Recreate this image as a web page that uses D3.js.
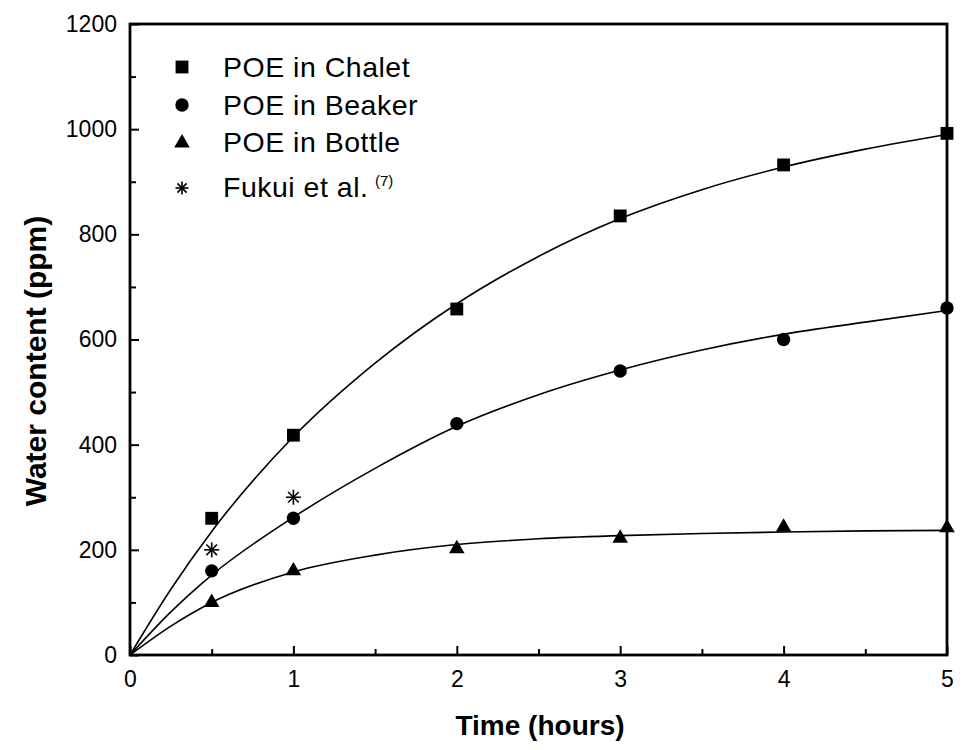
<!DOCTYPE html>
<html>
<head>
<meta charset="utf-8">
<script src="https://cdn.jsdelivr.net/npm/d3@7"></script>
<style>
  body { margin: 0; background: #fff; }
  svg { display: block; font-family: "Liberation Sans", Arial, sans-serif; }
</style>
</head>
<body>
<svg id="chart" width="964" height="750"></svg>
<script>
// Measured water content (ppm) versus exposure time (hours)
const times = [0.5, 1, 2, 3, 4, 5];
const chalet = [260, 418, 658, 835, 932, 992];
const beaker = [160, 260, 440, 540, 600, 660];
const bottle = [100, 160, 202, 222, 243, 242];
const fukuiTimes = [0.5, 1];
const fukui = [200, 300];

// Fitted trend curves
const fitTimes = [0, 0.25, 0.5, 1, 1.5, 2, 2.5, 3, 3.5, 4, 4.5, 5];
const chaletFit = [0, 125, 235, 415, 555, 668, 758, 830, 885, 928, 962, 990];
const beakerFit = [0, 82, 152, 262, 355, 435, 495, 542, 580, 610, 633, 655];
const bottleFit = [0, 55, 100, 158, 190, 210, 221, 227, 231, 234, 236, 237];

const xTicks = [0, 1, 2, 3, 4, 5];
const yTicks = [0, 200, 400, 600, 800, 1000, 1200];
const legendLabels = ["POE in Chalet", "POE in Beaker", "POE in Bottle", "Fukui et al."];

const svg = d3.select("#chart");
const plotLeft = 130, plotRight = 947, plotTop = 24, plotBottom = 655;

const x = d3.scaleLinear().domain([0, 5]).range([plotLeft, plotRight]);
const y = d3.scaleLinear().domain([0, 1200]).range([plotBottom, plotTop]);

// Axes with inward ticks
const xAxis = d3.axisBottom(x).tickValues(d3.range(0, 5.01, 0.5))
  .tickSize(-9).tickPadding(15)
  .tickFormat(d => xTicks.includes(d) ? d3.format("d")(d) : "");
const yAxis = d3.axisLeft(y).tickValues(d3.range(0, 1201, 100))
  .tickSize(-9).tickPadding(13)
  .tickFormat(d => yTicks.includes(d) ? d3.format("d")(d) : "");

const gx = svg.append("g").attr("transform", `translate(0,${plotBottom})`).call(xAxis);
const gy = svg.append("g").attr("transform", `translate(${plotLeft},0)`).call(yAxis);
[gx, gy].forEach(g => {
  g.select(".domain").remove();
  g.selectAll(".tick line").attr("stroke", "#000").attr("stroke-width", 2);
  g.selectAll(".tick text").attr("fill", "#000").attr("font-size", 23);
});
gx.selectAll(".tick text").attr("dy", "0.72em");
gx.selectAll(".tick").filter(d => !xTicks.includes(d)).select("line").attr("y2", -6);
gy.selectAll(".tick").filter(d => !yTicks.includes(d)).select("line").attr("x2", 6);

// Plot frame
svg.append("rect")
  .attr("x", plotLeft).attr("y", plotTop)
  .attr("width", plotRight - plotLeft).attr("height", plotBottom - plotTop)
  .attr("fill", "none").attr("stroke", "#000").attr("stroke-width", 2.8);

// Axis titles
svg.append("text")
  .attr("x", 540).attr("y", 735)
  .attr("text-anchor", "middle").attr("font-size", 28).attr("font-weight", "bold")
  .text("Time (hours)");
svg.append("text")
  .attr("transform", "translate(46,361) rotate(-90)")
  .attr("text-anchor", "middle").attr("font-size", 30).attr("font-weight", "bold")
  .text("Water content (ppm)");

// Trend curves
const line = d3.line().x(d => x(d[0])).y(d => y(d[1])).curve(d3.curveMonotoneX);
[chaletFit, beakerFit, bottleFit].forEach(vals => {
  svg.append("path")
    .datum(fitTimes.map((t, i) => [t, vals[i]]))
    .attr("d", line)
    .attr("fill", "none").attr("stroke", "#000").attr("stroke-width", 1.6);
});

// Marker shapes
const sym = {
  square: d3.symbol().type(d3.symbolSquare).size(165),
  circle: d3.symbol().type(d3.symbolCircle).size(140),
  triangle: d3.symbol().type(d3.symbolTriangle).size(105)
};
function asterisk(g, cx, cy, r) {
  const a = g.append("g").attr("transform", `translate(${cx},${cy})`);
  [0, 45, 90, 135].forEach(ang => {
    const rad = ang * Math.PI / 180;
    a.append("line")
      .attr("x1", -r * Math.cos(rad)).attr("y1", -r * Math.sin(rad))
      .attr("x2", r * Math.cos(rad)).attr("y2", r * Math.sin(rad))
      .attr("stroke", "#000").attr("stroke-width", 1.6);
  });
}

const series = [
  { vals: chalet, shape: "square" },
  { vals: beaker, shape: "circle" },
  { vals: bottle, shape: "triangle" }
];
series.forEach(s => {
  svg.append("g").selectAll("path")
    .data(times.map((t, i) => [t, s.vals[i]]))
    .join("path")
    .attr("d", sym[s.shape]())
    .attr("transform", d => `translate(${x(d[0])},${y(d[1])})`)
    .attr("fill", "#000");
});
const fk = svg.append("g");
fukuiTimes.forEach((t, i) => asterisk(fk, x(t), y(fukui[i]), 7.5));

// Legend
const markerY = [67, 105, 143, 188];
const textY = [77, 115, 152, 197];
const lg = svg.append("g");
["square", "circle", "triangle"].forEach((shape, i) => {
  lg.append("path").attr("d", sym[shape]())
    .attr("transform", `translate(182,${markerY[i]})`).attr("fill", "#000");
});
asterisk(lg, 182, markerY[3], 6.5);
legendLabels.forEach((lab, i) => {
  lg.append("text").attr("x", 223).attr("y", textY[i])
    .attr("font-size", 28.5).attr("letter-spacing", 0.5)
    .attr("fill", "#000").text(lab);
});
lg.append("text").attr("x", 375).attr("y", 186)
  .attr("font-size", 15).attr("fill", "#000").text("(7)");
</script>
</body>
</html>
